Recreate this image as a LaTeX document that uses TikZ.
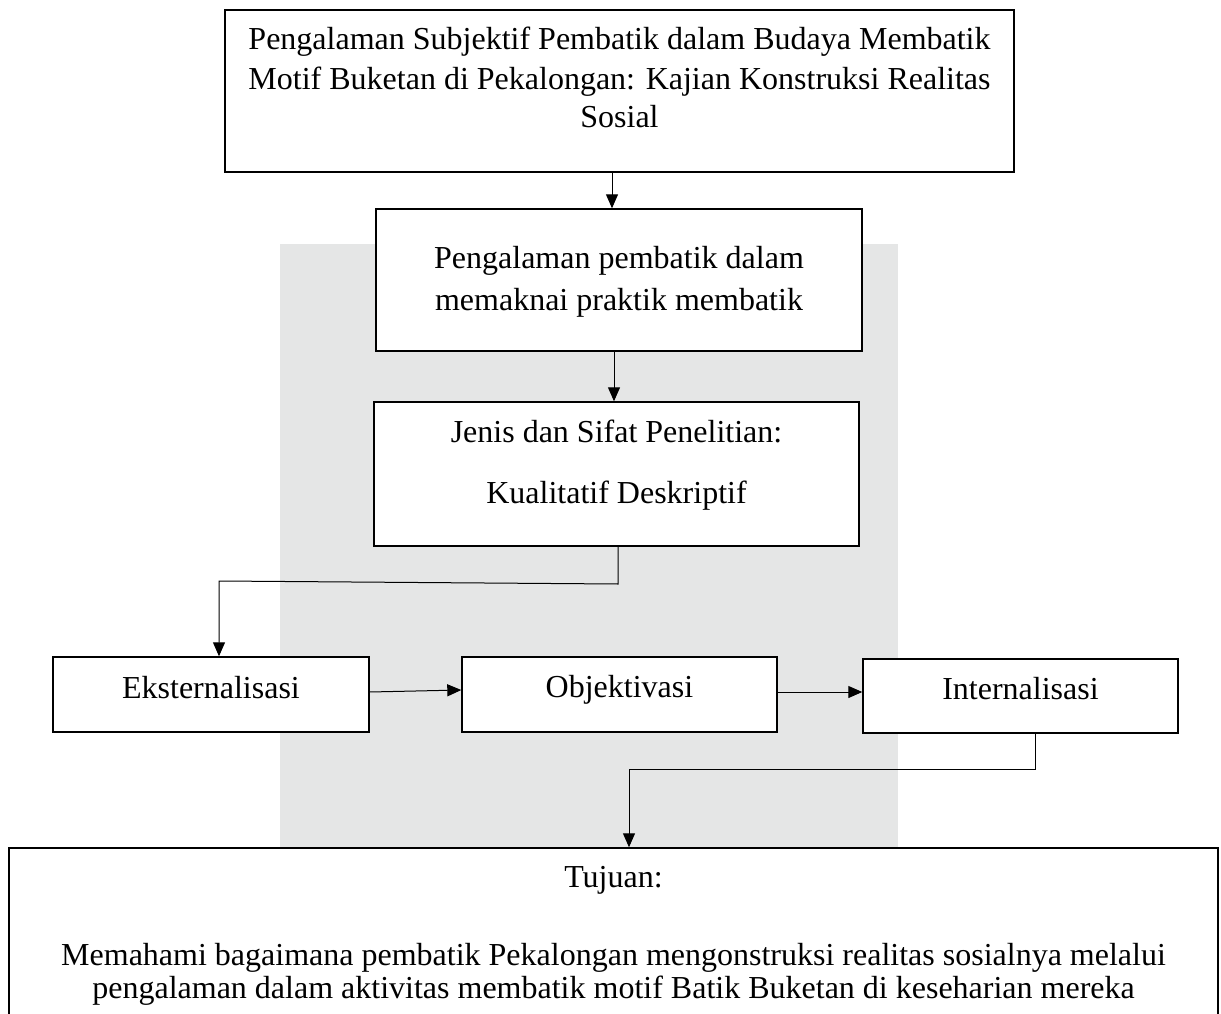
\documentclass[tikz,border=0pt]{standalone}
\usepackage{fontspec}
\setmainfont{Liberation Serif}
\usetikzlibrary{arrows.meta}
\definecolor{wm}{RGB}{229,230,230}
\begin{document}
\begin{tikzpicture}[x=1pt,y=-1pt,
  box/.style={draw, line width=1.4pt, fill=white, inner sep=0pt, rectangle},
  txt/.style={anchor=base, inner sep=0pt, font=\fontsize{32}{38}\selectfont},
  arr/.style={line width=1pt, -{Triangle[length=14pt,width=12pt]}}]
\useasboundingbox (0,0) rectangle (1221,1014);
\clip (0,0) rectangle (1221,1014);
% watermark background
\fill[wm] (280,244) rectangle (898,848);
% boxes
\node[box, minimum width=789pt, minimum height=162pt] (b1) at (619.5,91) {};
\node[box, minimum width=486pt, minimum height=142pt] (b2) at (619,280) {};
\node[box, minimum width=485pt, minimum height=144pt] (b3) at (616.5,474) {};
\node[box, minimum width=316pt, minimum height=75pt] (b4) at (211,694.5) {};
\node[box, minimum width=315pt, minimum height=75pt] (b5) at (619.5,694.5) {};
\node[box, minimum width=315pt, minimum height=74pt] (b6) at (1020.5,696) {};
\node[box, minimum width=1209pt, minimum height=192pt] (b7) at (613.5,944) {};
% texts
\node[txt] (t1a) at (619.5,50) {Pengalaman Subjektif Pembatik dalam Budaya Membatik};
\node[txt] (t1b) at (619.5,90) {Motif Buketan di Pekalongan: Kajian Konstruksi Realitas};
\node[txt] (t1c) at (619.5,128) {Sosial};
\node[txt] (t2a) at (619,268) {Pengalaman pembatik dalam};
\node[txt] (t2b) at (619,310) {memaknai praktik membatik};
\node[txt] (t3a) at (616.5,442) {Jenis dan Sifat Penelitian:};
\node[txt] (t3b) at (616.5,503) {Kualitatif Deskriptif};
\node[txt] (t4) at (211,698) {Eksternalisasi};
\node[txt] (t5) at (619.5,697) {Objektivasi};
\node[txt] (t6) at (1020.5,699) {Internalisasi};
\node[txt] (t7a) at (613.5,887) {Tujuan:};
\node[txt] (t7b) at (613.5,965) {Memahami bagaimana pembatik Pekalongan mengonstruksi realitas sosialnya melalui};
\node[txt] (t7c) at (613.5,998) {pengalaman dalam aktivitas membatik motif Batik Buketan di keseharian mereka};
% connectors
\coordinate (c1) at (612,0);
\coordinate (c2) at (614,0);
\coordinate (k1) at (618,584);
\coordinate (k2) at (219,581);
\coordinate (m1) at (1035,769);
\coordinate (m2) at (629,769);
\draw[arr] (b1.south -| c1) -- (b2.north -| c1);
\draw[arr] (b2.south -| c2) -- (b3.north -| c2);
\draw[arr] (b3.south -| k1) -- (k1) -- (k2) -- (b4.north -| k2);
\draw[arr] ([yshift=2.5pt]b4.east) -- ([yshift=4.5pt]b5.west);
\draw[arr] ([yshift=2.5pt]b5.east) -- ([yshift=4pt]b6.west);
\draw[arr] (b6.south -| m1) -- (m1) -- (m2) -- (b7.north -| m2);
\end{tikzpicture}
\end{document}
